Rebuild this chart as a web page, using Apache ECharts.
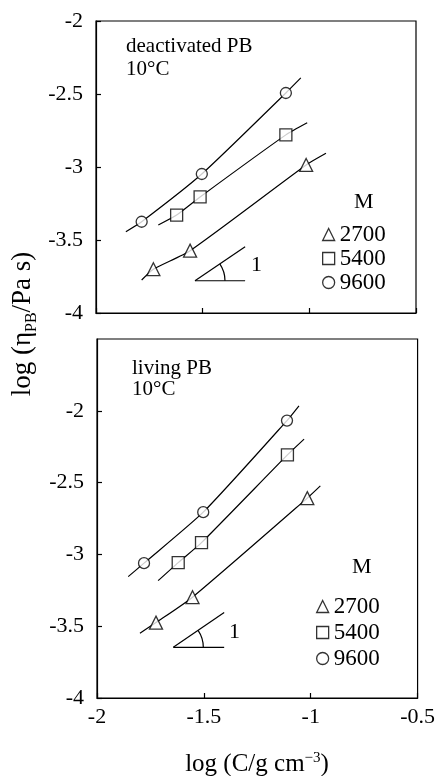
<!DOCTYPE html>
<html>
<head>
<meta charset="utf-8">
<script src="https://cdn.jsdelivr.net/npm/echarts@6/dist/echarts.min.js"></script>
<style>
  html, body { margin: 0; padding: 0; background: #fff; }
  #main { width: 438px; height: 776px; }
</style>
</head>
<body>
<div id="main"></div>
<script>
// values: [log C, log eta]
// deactivated PB, 10°C (top panel)
var deactTri = [[-1.731, -3.700], [-1.559, -3.573], [-1.015, -2.986]];
var deactSq = [[-1.622, -3.329], [-1.512, -3.205], [-1.110, -2.780]];
var deactCirc = [[-1.786, -3.375], [-1.504, -3.048], [-1.110, -2.493]];
// where the drawn fit curves start and stop
var deactTriEnds = [[-1.786, -3.774], [-0.922, -2.906]];
var deactSqEnds = [[-1.708, -3.397], [-1.010, -2.697]];
var deactCircEnds = [[-1.860, -3.443], [-1.040, -2.390]];
// slope-1 triangle: apex x, apex y, end x, end y
var deactSlope = [-1.536, -3.779, -1.301, -3.546];

// living PB, 10°C (bottom panel)
var livTri = [[-1.724, -3.475], [-1.553, -3.298], [-1.016, -2.608]];
var livSq = [[-1.620, -3.057], [-1.511, -2.918], [-1.109, -2.307]];
var livCirc = [[-1.780, -3.061], [-1.503, -2.706], [-1.111, -2.068]];
var livTriEnds = [[-1.799, -3.549], [-0.955, -2.523]];
var livSqEnds = [[-1.714, -3.183], [-1.031, -2.197]];
var livCircEnds = [[-1.854, -3.155], [-1.055, -1.965]];
var livSlope = [-1.643, -3.647, -1.405, -3.405];

var molarMasses = ['2700', '5400', '9600'];
var symbols = ['triangle', 'rect', 'circle'];
var symbolSizes = [13, 12, 11];

var FONT = 'Liberation Serif';

var myChart = echarts.init(document.getElementById('main'));

function fit(ends, pts) {
  return [ends[0]].concat(pts, [ends[1]]);
}

function panelSeries(idx, tri, sq, circ, triEnds, sqEnds, circEnds, slope) {
  var pts = [tri, sq, circ];
  var ends = [triEnds, sqEnds, circEnds];
  var out = [];
  for (var i = 0; i < 3; i++) {
    out.push({
      type: 'line',
      xAxisIndex: idx, yAxisIndex: idx,
      data: fit(ends[i], pts[i]),
      smooth: 0.2,
      showSymbol: false,
      silent: true,
      lineStyle: { color: '#000', width: 1.2 },
      z: 2
    });
    out.push({
      name: molarMasses[i],
      type: 'scatter',
      xAxisIndex: idx, yAxisIndex: idx,
      data: pts[i],
      symbol: symbols[i],
      symbolSize: symbolSizes[i],
      itemStyle: { color: '#fff', borderColor: '#000', borderWidth: 1.3 },
      z: 4
    });
  }
  // slope triangle
  out.push({
    type: 'line',
    xAxisIndex: idx, yAxisIndex: idx,
    data: [[slope[0], slope[1]], [slope[2], slope[3]]],
    showSymbol: false, silent: true,
    lineStyle: { color: '#000', width: 1.2 }
  });
  out.push({
    type: 'line',
    xAxisIndex: idx, yAxisIndex: idx,
    data: [[slope[0], slope[1]], [slope[2], slope[1]]],
    showSymbol: false, silent: true,
    lineStyle: { color: '#000', width: 1.2 }
  });
  out.push({
    type: 'custom',
    xAxisIndex: idx, yAxisIndex: idx,
    silent: true,
    data: [slope],
    renderItem: function (params, api) {
      var a = api.coord([api.value(0), api.value(1)]);
      var b = api.coord([api.value(2), api.value(3)]);
      var ang = Math.atan2(a[1] - b[1], b[0] - a[0]);
      return {
        type: 'arc',
        shape: { cx: a[0], cy: a[1], r: 30, startAngle: -ang, endAngle: 0, clockwise: true },
        style: { stroke: '#000', fill: null, lineWidth: 1.2 }
      };
    }
  });
  return out;
}

function yAxis(idx, max) {
  return {
    type: 'value', gridIndex: idx,
    min: -4, max: max, interval: 0.5,
    axisLine: { show: true, lineStyle: { color: '#000', width: 1.2 } },
    axisTick: { show: true, inside: true, length: 5, lineStyle: { color: '#000', width: 1.2 } },
    axisLabel: { show: true, showMaxLabel: idx === 0, margin: 13, color: '#000', fontFamily: FONT, fontSize: 22 },
    splitLine: { show: false }
  };
}

function xAxis(idx) {
  return {
    type: 'value', gridIndex: idx,
    min: -2, max: -0.5, interval: 0.5,
    axisLine: { show: true, lineStyle: { color: '#000', width: 1.2 } },
    axisTick: { show: true, inside: true, length: 5, lineStyle: { color: '#000', width: 1.2 } },
    axisLabel: { show: idx === 1, margin: 8, color: '#000', fontFamily: FONT, fontSize: 22 },
    splitLine: { show: false }
  };
}

function legend(left, top, gap) {
  return {
    orient: 'vertical',
    left: left, top: top,
    padding: 0,
    itemGap: gap,
    itemWidth: 12, itemHeight: 12,
    selectedMode: false,
    data: molarMasses.map(function (m, i) { return { name: m, icon: symbols[i] }; }),
    itemStyle: { color: '#fff', borderColor: '#000', borderWidth: 1.3 },
    textStyle: { color: '#000', fontFamily: FONT, fontSize: 23, lineHeight: 23 }
  };
}

function label(x, y, text, size) {
  return {
    type: 'text', left: x, top: y,
    style: { text: text, fill: '#000', font: (size || 21) + 'px "' + FONT + '"' }
  };
}

myChart.setOption({
  backgroundColor: '#fff',
  animation: false,
  grid: [
    { left: 96, top: 21, width: 320, height: 292, show: true, borderColor: '#000', borderWidth: 1.2 },
    { left: 97, top: 339, width: 321, height: 359, show: true, borderColor: '#000', borderWidth: 1.2 }
  ],
  xAxis: [xAxis(0), xAxis(1)],
  yAxis: [yAxis(0, -2), yAxis(1, -1.5)],
  legend: [legend(322, 223, 1), legend(316, 595, 3)],
  graphic: [
    label(126, 36, 'deactivated PB'),
    label(126, 59, '10°C'),
    label(132, 358, 'living PB'),
    label(132, 379, '10°C'),
    label(354, 191, 'M', 22),
    label(352, 556, 'M', 22),
    label(251, 254, '1', 22),
    label(229, 621, '1', 22),
    {
      type: 'text', x: 23, y: 324, rotation: Math.PI / 2,
      style: {
        text: 'log (η{sub|PB}/Pa s)',
        align: 'center', verticalAlign: 'middle',
        fill: '#000', font: '27px "' + FONT + '"',
        rich: {
          sub: { fontSize: 16, fontFamily: FONT, fill: '#000', verticalAlign: 'bottom', padding: [17, 0, 0, 0] }
        }
      }
    },
    {
      type: 'text', x: 257, y: 764,
      style: {
        text: 'log (C/g cm{sup|−3})',
        align: 'center', verticalAlign: 'middle',
        fill: '#000', font: '25px "' + FONT + '"',
        rich: {
          sup: { fontSize: 15, fontFamily: FONT, fill: '#000', padding: [0, 0, 12, 0] }
        }
      }
    }
  ],
  series: [].concat(
    panelSeries(0, deactTri, deactSq, deactCirc, deactTriEnds, deactSqEnds, deactCircEnds, deactSlope),
    panelSeries(1, livTri, livSq, livCirc, livTriEnds, livSqEnds, livCircEnds, livSlope)
  )
});
</script>
</body>
</html>
